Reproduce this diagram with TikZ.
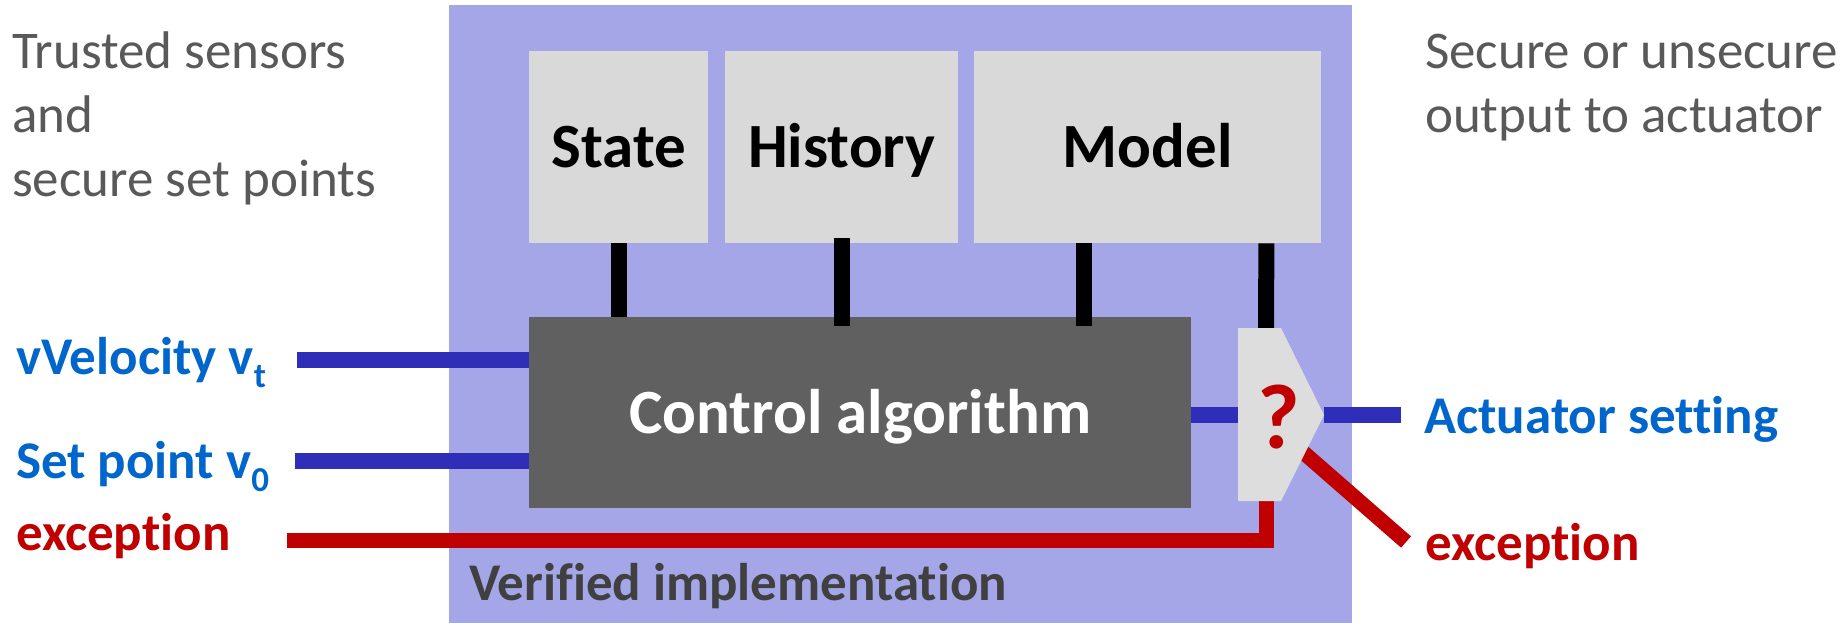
\documentclass[tikz,border=0pt]{standalone}
\usepackage{fontspec}
\setmainfont{Carlito}[Ligatures=NoCommon]
\usetikzlibrary{calc}

\definecolor{zone}{RGB}{165,166,232}
\definecolor{panelgray}{RGB}{217,217,217}
\definecolor{coregray}{RGB}{96,96,96}
\definecolor{gategray}{RGB}{221,221,221}
\definecolor{wireblue}{RGB}{47,46,184}
\definecolor{labelblue}{RGB}{0,102,204}
\definecolor{alarmred}{RGB}{192,0,0}
\definecolor{notegray}{RGB}{89,89,89}
\definecolor{zonetext}{RGB}{64,64,64}

\newcommand{\lowsub}[1]{\raisebox{-0.26em}{\fontsize{35}{35}\selectfont #1}}

\tikzset{
  panel/.style={fill=panelgray, draw=none, inner sep=0pt, anchor=north west,
                text height=40.6pt, text depth=0pt,
                font=\fontsize{63}{70}\selectfont\bfseries},
  core/.style={panel, fill=coregray, text=white},
  tap/.style={line width=16pt, black},
  signal/.style={line width=16pt, wireblue},
  alarm/.style={line width=15pt, alarmred, line join=miter},
  sig label/.style={inner sep=0pt, anchor=base west, text=labelblue,
                    font=\fontsize{53}{64}\selectfont\bfseries},
  alarm label/.style={sig label, text=alarmred},
  note/.style={inner sep=0pt, anchor=base west, text=notegray, align=left,
               font=\fontsize{53}{64}\selectfont},
}

\begin{document}
\begin{tikzpicture}[x=1pt,y=-1pt]
\useasboundingbox (0,0) rectangle (1843,623);

% verified zone
\fill[zone] (449,5) rectangle (1352,623);
\node[inner sep=0pt, anchor=base west, text=zonetext,
      font=\fontsize{53}{64}\selectfont\bfseries] (zlabel) at (469,600) {Verified implementation};

% stored data panels
\node[panel, minimum width=179pt, minimum height=192pt] (state) at (529,51) {State};
\node[panel, minimum width=233pt, minimum height=192pt] (hist) at (725,51) {History};
\node[panel, minimum width=347pt, minimum height=192pt] (model) at (974,51) {Model};

% controller
\node[core, minimum width=662pt, minimum height=191pt] (ctrl) at (529,317) {Control algorithm};

% output gate
\coordinate (gNW) at (1238,328);
\coordinate (gNE) at (1281,328);
\coordinate (gTip) at (1324,415);
\coordinate (gSE) at (1281,501);
\coordinate (gSW) at (1238,501);
\coordinate (gBot) at (1266,501);
\coordinate (gTop) at (1266,328);
\coordinate (gEdge) at (1296,446);

% taps from panels to controller and gate
\draw[tap] (state.south) -- (state.south |- ctrl.north);
\draw[tap] ($(hist.south)+(0,-5)$) -- ($(hist.south |- ctrl.north)+(0,9)$);
\draw[tap] ($(model.south west)+(110,0)$) coordinate (mtap)
           -- ($(mtap |- ctrl.north)+(0,9)$);
\draw[tap] ($(model.south east)+(-55,0)$) -- (gTop);

% inputs
\coordinate (vin) at (297,360);
\coordinate (spin) at (295,461);
\coordinate (exin) at (287,540);
\draw[signal] (vin) -- (vin -| ctrl.west);
\draw[signal] (spin) -- (spin -| ctrl.west);
\draw[alarm] (exin) -- (exin -| gBot) -- (gBot);

% outputs
\coordinate (aout) at (1401,415);
\coordinate (exout) at (1406,542);
\draw[signal] (ctrl.east |- gTip) -- (gNW |- gTip);
\draw[signal] (gTip) -- (aout);
\draw[alarm] (gEdge) -- (exout);

\fill[gategray] (gNW) -- (gNE) -- (gTip) -- (gSE) -- (gSW) -- cycle;
\node[inner sep=0pt, text=alarmred, font=\fontsize{92}{92}\selectfont\bfseries]
     (gq) at (1279,417) {?};

% signal labels
\node[sig label] (vlab) at (16,374) {vVelocity v\lowsub{t}};
\node[sig label] (slab) at (16,478) {Set point v\lowsub{0}};
\node[alarm label] (elab) at (16,550) {exception};
\node[sig label] (alab) at (1424,433) {Actuator setting};
\node[alarm label] (eolab) at (1425,560) {exception};

% notes (anchored at the baseline of their last line)
\node[note] (innote) at (12,196) {Trusted sensors\\and\\secure set points};
\node[note] (outnote) at (1425,132) {Secure or unsecure\\output to actuator};
\end{tikzpicture}
\end{document}
